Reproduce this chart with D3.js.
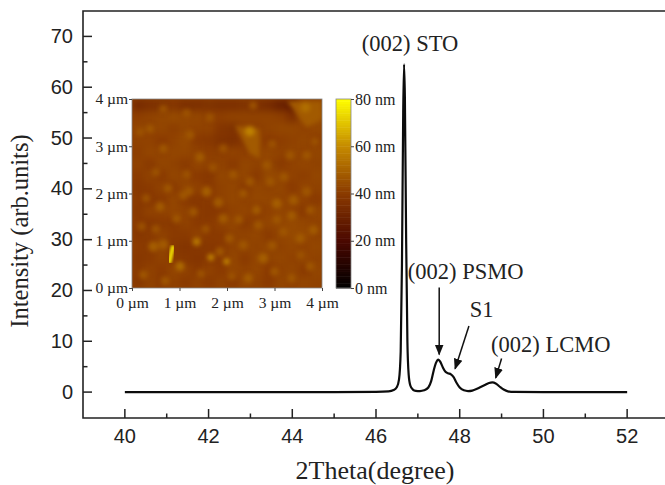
<!DOCTYPE html>
<html>
<head>
<meta charset="utf-8">
<script src="https://cdn.jsdelivr.net/npm/d3@7"></script>
<style>
body { margin: 0; background: #fff; overflow: hidden; }
svg { display: block; }
.num { font-family: "Liberation Sans", Arial, sans-serif; font-size: 20px; fill: #222; }
.serif { font-family: "Liberation Serif", "Times New Roman", serif; fill: #222; }
</style>
</head>
<body>
<svg id="chart" width="665" height="485"></svg>
<script>
// XRD scan
var twoTheta = [40, 42, 44, 45, 46, 46.3, 46.42, 46.5, 46.55, 46.59, 46.62, 46.65, 46.67, 46.69, 46.72, 46.75, 46.78, 46.82, 46.88, 46.95, 47.05, 47.15, 47.25, 47.32, 47.38, 47.43, 47.49, 47.54, 47.6, 47.66, 47.72, 47.79, 47.85, 47.92, 48, 48.1, 48.2, 48.3, 48.4, 48.5, 48.6, 48.7, 48.78, 48.86, 48.95, 49.05, 49.15, 49.3, 50, 51, 52];
var intensity = [0, 0, 0, 0, 0.05, 0.15, 0.4, 1.0, 2.5, 8, 25, 55, 64.5, 58, 30, 10, 3.5, 1.3, 0.5, 0.25, 0.2, 0.35, 0.9, 2.2, 4.3, 5.7, 6.4, 5.9, 4.8, 4.0, 3.7, 3.5, 3.0, 1.9, 0.9, 0.35, 0.2, 0.3, 0.6, 1.0, 1.4, 1.8, 1.9, 1.7, 1.1, 0.5, 0.15, 0.03, 0, 0, 0];

var xTicks = [40, 42, 44, 46, 48, 50, 52];
var xMinorTicks = [41, 43, 45, 47, 49, 51];
var yTicks = [0, 10, 20, 30, 40, 50, 60, 70];
var yMinorTicks = [5, 15, 25, 35, 45, 55, 65];

// text and arrows, in data coordinates
var peakLabels = [
  ["(002) STO", 45.66, 67.2],
  ["(002) PSMO", 46.76, 22.2],
  ["S1", 48.24, 14.7],
  ["(002) LCMO", 48.75, 7.9]
];
var peakArrows = [
  [47.51, 20.6, 47.51, 7.4],
  [48.22, 13, 47.89, 4.6],
  [49.0, 6.6, 48.86, 2.8]
];

// AFM inset: coarse height map in nm, top row first
var afmHeights = [
  [34, 36, 37, 38, 36, 36, 37, 36, 36, 37, 36, 34, 30, 28, 42, 42],
  [41, 42, 43, 44, 43, 43, 42, 41, 42, 42, 42, 42, 41, 36, 44, 45],
  [43, 42, 43, 41, 43, 42, 42, 38, 37, 41, 41, 42, 43, 43, 42, 43],
  [42, 42, 40, 42, 44, 40, 39, 37, 36, 39, 42, 40, 41, 42, 43, 41],
  [41, 43, 42, 43, 43, 42, 41, 41, 42, 41, 42, 43, 42, 43, 42, 43],
  [42, 40, 43, 42, 40, 43, 42, 42, 40, 43, 42, 43, 40, 42, 43, 42],
  [40, 42, 40, 43, 42, 40, 39, 43, 42, 43, 40, 44, 43, 42, 41, 43],
  [39, 40, 42, 40, 43, 42, 40, 42, 43, 40, 43, 42, 43, 40, 43, 42],
  [40, 39, 40, 43, 40, 39, 40, 42, 43, 42, 43, 43, 42, 43, 42, 40],
  [39, 42, 42, 43, 42, 40, 39, 40, 42, 43, 40, 42, 43, 42, 40, 43],
  [40, 39, 40, 40, 42, 40, 40, 42, 43, 40, 42, 43, 43, 44, 43, 42],
  [39, 40, 42, 40, 40, 42, 40, 40, 42, 42, 43, 40, 43, 44, 44, 42],
  [40, 40, 43, 39, 38, 39, 39, 40, 42, 43, 42, 43, 42, 43, 42, 43],
  [39, 40, 42, 40, 39, 38, 40, 40, 43, 40, 43, 42, 43, 42, 43, 42],
  [40, 42, 40, 43, 42, 40, 42, 40, 43, 42, 43, 40, 42, 43, 40, 43],
  [39, 42, 40, 42, 40, 42, 40, 42, 40, 43, 42, 40, 43, 42, 43, 42]
];
// grains: x um, y um, height nm
var afmGrains = [
  [1.22, 3.24, 47], [0.66, 0.92, 48], [1.36, 0.98, 55],
  [1.66, 0.65, 58], [1.99, 0.56, 60], [1.01, 0.46, 52], [0.45, 0.88, 49], [2.13, 2.40, 47],
  [2.48, 2.25, 47], [1.57, 2.04, 49], [1.82, 1.81, 48], [1.92, 1.47, 48], [2.62, 1.65, 48],
  [3.05, 1.79, 49], [0.59, 1.72, 48], [1.08, 1.96, 47], [3.36, 1.53, 48], [3.54, 1.05, 48],
  [2.76, 0.63, 49], [3.75, 0.46, 47], [2.45, 0.21, 48], [3.36, 0.21, 47], [0.24, 0.28, 47],
  [0.66, 2.95, 47], [1.43, 2.77, 48], [0.38, 3.37, 47], [0.66, 3.79, 46], [0.17, 3.30, 46],
  [3.68, 2.04, 47], [2.91, 2.25, 47], [3.40, 1.86, 48], [2.34, 2.00, 47], [0.76, 2.11, 47],
  [3.82, 1.23, 48], [2.66, 1.33, 47], [1.29, 1.61, 47], [1.85, 0.77, 47], [3.19, 1.19, 47],
  [2.34, 0.91, 47], [0.94, 1.47, 47], [1.92, 2.95, 46], [3.33, 2.81, 47], [3.68, 2.81, 47],
  [2.84, 2.60, 47], [1.64, 3.61, 46], [2.55, 3.86, 46], [0.30, 1.90, 46], [0.20, 1.30, 46],
  [1.45, 0.30, 46], [2.05, 1.05, 47], [3.00, 0.35, 47], [3.85, 3.10, 46], [2.95, 3.05, 46],
  [0.50, 2.45, 46], [1.15, 2.40, 46], [1.70, 2.55, 46], [3.20, 2.35, 47], [3.75, 1.65, 47],
  [2.25, 1.45, 47], [1.55, 1.25, 46], [0.50, 1.25, 46], [2.95, 0.90, 47], [3.55, 0.70, 46],
  [2.10, 0.25, 46], [0.70, 0.15, 47], [1.15, 3.70, 46], [3.05, 1.45, 47], [1.20, 2.05, 47]
];
// the narrow bright grain near the lower left, drawn as a stroke from end to end
var afmRidge = [[0.86, 0.86], [0.82, 0.70], [0.79, 0.56]];
var afmRidgeHeight = 72;
var afmTerraces = [
  [[3.26, 3.96], [4, 3.96], [4, 3.58], [3.68, 3.40]],
  [[2.17, 3.44], [2.69, 3.37], [2.69, 2.74], [2.48, 2.84]]
];
var afmTerraceHeight = 48;
var afmSpots = [[3.65, 3.82, 53], [2.48, 3.32, 58]];

var umTicks = [0, 1, 2, 3, 4];
var nmTicks = [0, 20, 40, 60, 80];

var svg = d3.select("#chart");

// scales
var x = d3.scaleLinear().domain([39, 53]).range([83, 669]);
var y = d3.scaleLinear().domain([-5.1, 75]).range([418, 11]);
var umX = d3.scaleLinear().domain([0, 4]).range([132, 322]);
var umY = d3.scaleLinear().domain([0, 4]).range([288, 99]);
var nmY = d3.scaleLinear().domain([0, 80]).range([288, 99]);
var heat = d3.scaleLinear()
  .domain([0, 20, 40, 60, 80])
  .range(["#000000", "#4a0800", "#8a3a00", "#c58a00", "#ffff00"]);

var defs = svg.append("defs");
defs.append("clipPath").attr("id", "afmClip").append("rect")
  .attr("x", 132).attr("y", 99).attr("width", 190).attr("height", 189);
function blur(id, amount) {
  defs.append("filter").attr("id", id).attr("color-interpolation-filters", "sRGB")
    .attr("x", "-10%").attr("y", "-10%").attr("width", "120%").attr("height", "120%")
    .append("feGaussianBlur").attr("stdDeviation", amount);
}
blur("soft", 2.2);
blur("softer", 3.5);
blur("fine", 1.2);
defs.append("marker").attr("id", "head").attr("viewBox", "0 0 10 10")
  .attr("refX", 9).attr("refY", 5).attr("markerWidth", 11).attr("markerHeight", 11)
  .attr("markerUnits", "userSpaceOnUse").attr("orient", "auto")
  .append("path").attr("d", "M0,1 L10,5 L0,9 Z").attr("fill", "#111");

// main frame: left, bottom and top; the right side runs off the page
svg.append("path")
  .attr("d", "M665," + y(75) + " H" + x(39) + " V" + y(-5.1) + " H665")
  .attr("fill", "none").attr("stroke", "#222").attr("stroke-width", 1.6);

function tickMarks(values, len, isX) {
  svg.append("g").selectAll("line").data(values).join("line")
    .attr("x1", function(d) { return isX ? x(d) : x(39); })
    .attr("x2", function(d) { return isX ? x(d) : x(39) + len; })
    .attr("y1", function(d) { return isX ? y(-5.1) : y(d); })
    .attr("y2", function(d) { return isX ? y(-5.1) - len : y(d); })
    .attr("stroke", "#222").attr("stroke-width", 1.5);
}
tickMarks(xTicks, 9, true);
tickMarks(xMinorTicks, 4.5, true);
tickMarks(yTicks, 9, false);
tickMarks(yMinorTicks, 4.5, false);

svg.append("g").selectAll("text").data(xTicks).join("text")
  .attr("class", "num").attr("text-anchor", "middle")
  .attr("x", function(d) { return x(d); }).attr("y", 443)
  .text(function(d) { return d; });
svg.append("g").selectAll("text").data(yTicks).join("text")
  .attr("class", "num").attr("text-anchor", "end")
  .attr("x", 73).attr("y", function(d) { return y(d) + 6.5; })
  .text(function(d) { return d; });

svg.append("text").attr("class", "serif").attr("font-size", 26)
  .attr("text-anchor", "middle").attr("x", 375).attr("y", 479)
  .text("2Theta(degree)");
svg.append("text").attr("class", "serif").attr("font-size", 24.5)
  .attr("text-anchor", "middle")
  .attr("transform", "translate(28,231) rotate(-90)")
  .text("Intensity (arb.units)");

// AFM image
var afm = svg.append("g").attr("clip-path", "url(#afmClip)");
afm.append("rect").attr("x", 132).attr("y", 99).attr("width", 190).attr("height", 189).attr("fill", heat(42));
var rowBand = d3.scaleBand().domain(d3.range(afmHeights.length)).range([99, 288]);
var colBand = d3.scaleBand().domain(d3.range(afmHeights[0].length)).range([132, 322]);
afm.append("g").attr("filter", "url(#softer)")
  .selectAll("g").data(afmHeights).join("g")
  .attr("transform", function(d, i) { return "translate(0," + rowBand(i) + ")"; })
  .selectAll("rect").data(function(d) { return d; }).join("rect")
  .attr("x", function(d, i) { return colBand(i); })
  .attr("width", colBand.bandwidth() + 0.5).attr("height", rowBand.bandwidth() + 0.5)
  .attr("fill", function(d) { return heat(d); });
var overlay = afm.append("g").attr("filter", "url(#soft)");
overlay.selectAll("polygon").data(afmTerraces).join("polygon")
  .attr("points", function(d) {
    return d.map(function(p) { return umX(p[0]) + "," + umY(p[1]); }).join(" ");
  })
  .attr("fill", heat(afmTerraceHeight));
var grainR = d3.scaleLinear().domain([46, 49, 60]).range([4, 5, 3]);
overlay.selectAll("circle.grain").data(afmGrains).join("circle")
  .attr("class", "grain")
  .attr("cx", function(d) { return umX(d[0]); })
  .attr("cy", function(d) { return umY(d[1]); })
  .attr("r", function(d) { return grainR(d[2]); })
  .attr("fill", function(d) { return heat(d[2]); });
overlay.selectAll("circle.spot").data(afmSpots).join("circle")
  .attr("class", "spot")
  .attr("cx", function(d) { return umX(d[0]); })
  .attr("cy", function(d) { return umY(d[1]); })
  .attr("r", 5)
  .attr("fill", function(d) { return heat(d[2]); });
afm.append("path").attr("filter", "url(#fine)")
  .attr("d", d3.line().x(function(d) { return umX(d[0]); }).y(function(d) { return umY(d[1]); })(afmRidge))
  .attr("fill", "none").attr("stroke", heat(afmRidgeHeight)).attr("stroke-width", 4.5).attr("stroke-linecap", "round");

// AFM frame and axes
svg.append("rect").attr("x", 132).attr("y", 99).attr("width", 190).attr("height", 189)
  .attr("fill", "none").attr("stroke", "#888").attr("stroke-width", 0.8);

function smallAxis(size) {
  return function(g) {
    g.selectAll(".domain").remove();
    g.selectAll("line").attr("stroke", "#444");
    g.selectAll("text").attr("class", "serif").attr("font-size", size).attr("font-family", null);
  };
}
svg.append("g").attr("transform", "translate(132,288)")
  .call(d3.axisBottom(umX.copy().range([0, 190])).tickValues(umTicks).tickSize(3).tickPadding(6)
    .tickFormat(function(d) { return d + " µm"; }))
  .call(smallAxis(15.5));
svg.append("g").attr("transform", "translate(132,0)")
  .call(d3.axisLeft(umY).tickValues(umTicks).tickSize(3).tickPadding(1)
    .tickFormat(function(d) { return d + " µm"; }))
  .call(smallAxis(15.5));

// colour bar
svg.append("g").selectAll("rect").data(d3.range(0, 80, 1)).join("rect")
  .attr("x", 336).attr("width", 15)
  .attr("y", function(d) { return nmY(d + 1); })
  .attr("height", nmY(0) - nmY(1) + 0.5)
  .attr("fill", function(d) { return heat(d + 0.5); });
svg.append("rect").attr("x", 336).attr("y", 99).attr("width", 15).attr("height", 189)
  .attr("fill", "none").attr("stroke", "#888").attr("stroke-width", 0.8);
svg.append("g").attr("transform", "translate(351,0)")
  .call(d3.axisRight(nmY).tickValues(nmTicks).tickSize(3).tickPadding(1)
    .tickFormat(function(d) { return d + " nm"; }))
  .call(smallAxis(16));

// XRD curve
var line = d3.line()
  .x(function(d) { return x(d[0]); })
  .y(function(d) { return y(d[1]); })
  .curve(d3.curveMonotoneX);
svg.append("path")
  .datum(d3.zip(twoTheta, intensity))
  .attr("d", line)
  .attr("fill", "none").attr("stroke", "#0c0c0c").attr("stroke-width", 2.2);

// peak labels and arrows
svg.append("g").selectAll("text").data(peakLabels).join("text")
  .attr("class", "serif").attr("font-size", 22.5)
  .attr("x", function(d) { return x(d[1]); })
  .attr("y", function(d) { return y(d[2]); })
  .text(function(d) { return d[0]; });
svg.append("g").selectAll("line").data(peakArrows).join("line")
  .attr("x1", function(d) { return x(d[0]); })
  .attr("y1", function(d) { return y(d[1]); })
  .attr("x2", function(d) { return x(d[2]); })
  .attr("y2", function(d) { return y(d[3]); })
  .attr("stroke", "#111").attr("stroke-width", 1.5)
  .attr("marker-end", "url(#head)");
</script>
</body>
</html>
